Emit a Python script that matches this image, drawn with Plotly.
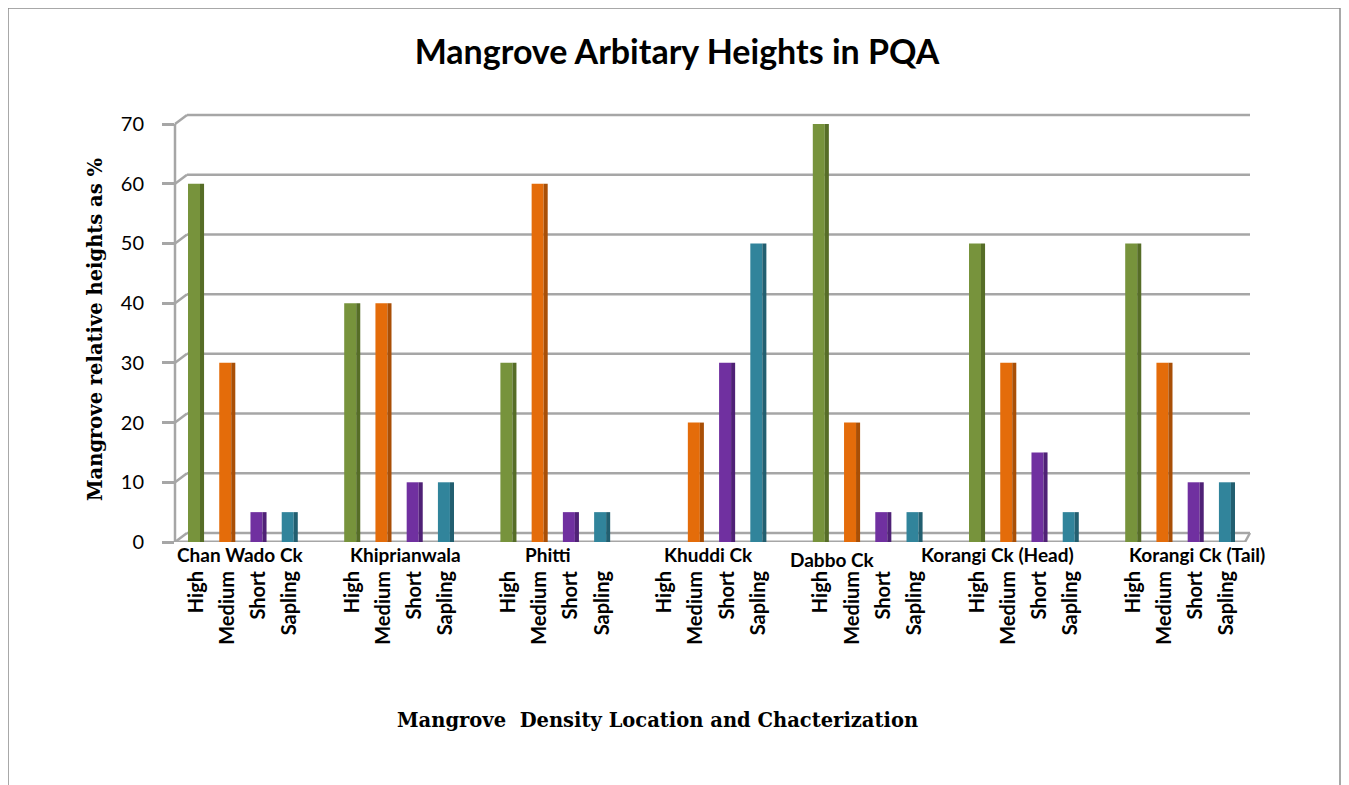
import plotly.graph_objects as go

# ---- data ----
locations = ["Chan Wado Ck", "Khiprianwala", "Phitti", "Khuddi Ck",
             "Dabbo Ck", "Korangi Ck (Head)", "Korangi Ck (Tail)"]
categories = ["High", "Medium", "Short", "Sapling"]
high = [60, 40, 30, 0, 70, 50, 50]
medium = [30, 40, 60, 20, 20, 30, 30]
short = [5, 10, 5, 30, 5, 15, 10]
sapling = [5, 10, 5, 50, 5, 5, 10]
y_ticks = [0, 10, 20, 30, 40, 50, 60, 70]

series = [high, medium, short, sapling]
face_colors = ["#77933C", "#E46C0A", "#7030A0", "#31849B"]
side_colors = ["#566D27", "#A94F06", "#4F2176", "#225F70"]

# style: label nudges (px) to mimic the original placement
label_dx = [-3, 6, -7, -3, -35, -26, 17]
label_dy = [0, 0, 0, 0, -5, 0, 0]

SLOTS = 5  # 4 bars + 1 gap per location

OFF = 8  # page body margin
W, H = 1349, 785
# plot area in screen pixels (slightly larger than the front box so the
# 3-D back wall is not clipped)
FRONT_L, FRONT_R, FRONT_T, FRONT_B = 175, 1245, 124, 542
L, R, T, B = FRONT_L - OFF, 1254 - OFF, 108 - OFF, FRONT_B - OFF
PW, PH = R - L, B - T
UNIT_PX = (FRONT_B - FRONT_T) / 70.0
Y1 = PH / UNIT_PX
SLOT_PX = 31.24
X0 = -(196 - FRONT_L) / SLOT_PX
X1 = X0 + PW / SLOT_PX
DEPTH_X, DEPTH_Y = 12, 9  # 3-D depth of the walls


def px(x):
    return (x - OFF - L) / PW


def py(y):
    return (B - (y - OFF)) / PH


fig = go.Figure()
tickvals, ticktext = [], []
for ci, (cat, vals) in enumerate(zip(categories, series)):
    xs = [g * SLOTS + ci for g in range(len(locations))]
    tickvals += xs
    ticktext += ["<b>%s</b>" % cat] * len(xs)
    fig.add_trace(go.Bar(x=xs, y=vals, width=0.384, offset=-0.256,
                         marker=dict(color=face_colors[ci], line=dict(width=0)),
                         name=cat, showlegend=False, hoverinfo="x+y"))
    fig.add_trace(go.Bar(x=xs, y=vals, width=0.13, offset=0.128,
                         marker=dict(color=side_colors[ci], line=dict(width=0)),
                         showlegend=False, hoverinfo="skip"))

grid = dict(color="#A6A6A6", width=2.5)
# back-wall gridlines and their slanted joins to the front axis
for v in y_ticks:
    fig.add_shape(type="line", xref="paper", x0=px(FRONT_L + DEPTH_X), x1=px(1250),
                  yref="y", ysizemode="pixel", yanchor=v, y0=DEPTH_Y, y1=DEPTH_Y,
                  line=grid, layer="below")
    fig.add_shape(type="line", xref="paper", xsizemode="pixel", xanchor=0,
                  x0=0, x1=DEPTH_X,
                  yref="y", ysizemode="pixel", yanchor=v, y0=0, y1=DEPTH_Y,
                  line=grid, layer="below")
# front value axis
fig.add_shape(type="line", xref="paper", x0=0, x1=0, yref="y", y0=0, y1=70,
              line=grid, layer="below")
# floor: front edge and right-hand join
fig.add_shape(type="line", xref="paper", x0=0, x1=px(FRONT_R), yref="y", y0=0, y1=0,
              line=dict(color="#A6A6A6", width=3), layer="below")
fig.add_shape(type="line", xref="paper", xsizemode="pixel", xanchor=px(FRONT_R),
              x0=0, x1=5, yref="y", ysizemode="pixel", yanchor=0, y0=0, y1=DEPTH_Y,
              line=grid, layer="below")

label_font = dict(family="Lato, Open Sans, sans-serif", size=19, color="black")
for g, loc in enumerate(locations):
    fig.add_annotation(x=g * SLOTS + 1.5, y=0, xref="x", yref="y", text="<b>%s</b>" % loc,
                       showarrow=False, yanchor="top", xshift=label_dx[g],
                       yshift=1 + label_dy[g], font=label_font)

serif = dict(family="DejaVu Serif, serif", size=19.5, color="black")
fig.add_annotation(x=px(657), y=py(720), xref="paper", yref="paper",
                   text="<b>Mangrove  Density Location and Chacterization</b>",
                   showarrow=False, xanchor="center", yanchor="middle", font=serif)
fig.add_annotation(x=px(95), y=py(330), xref="paper", yref="paper",
                   text="<b>Mangrove relative heights as %</b>", textangle=-90,
                   showarrow=False, xanchor="center", yanchor="middle", font=serif)

fig.update_layout(
    width=W, height=H,
    paper_bgcolor="white", plot_bgcolor="white",
    barmode="overlay",
    margin=dict(l=L, r=W - R, t=T, b=H - B, autoexpand=False),
    title=dict(text="<b>Mangrove Arbitary Heights in PQA</b>", x=(677 - OFF) / W,
               xanchor="center", y=1 - (52 - OFF) / H, yanchor="middle",
               font=dict(family="Lato, Open Sans, sans-serif", size=34, color="black")),
    xaxis=dict(range=[X0, X1], tickmode="array", tickvals=tickvals, ticktext=ticktext,
               tickangle=-90, ticks="", showgrid=False, zeroline=False,
               showline=False, automargin=False,
               tickfont=dict(family="Lato, Open Sans, sans-serif", size=20, color="black"),
               ticklabelstandoff=24),
    yaxis=dict(range=[0, Y1], tickmode="array", tickvals=y_ticks, automargin=False,
               showgrid=False, zeroline=False, showline=False,
               ticks="outside", ticklen=12, tickcolor="#A6A6A6", tickwidth=2.5,
               tickfont=dict(family="Lato, Open Sans, sans-serif", size=20, color="black"),
               ticklabelstandoff=14),
)

# chart frame (open at the bottom, as in the cropped reference)
fig.add_shape(type="rect", xref="paper", yref="paper",
              x0=px(8), x1=px(1340), y0=py(1000), y1=py(8),
              line=dict(color="#8C8C8C", width=1.5), fillcolor="rgba(0,0,0,0)", layer="below")

fig.write_html("out.html")
